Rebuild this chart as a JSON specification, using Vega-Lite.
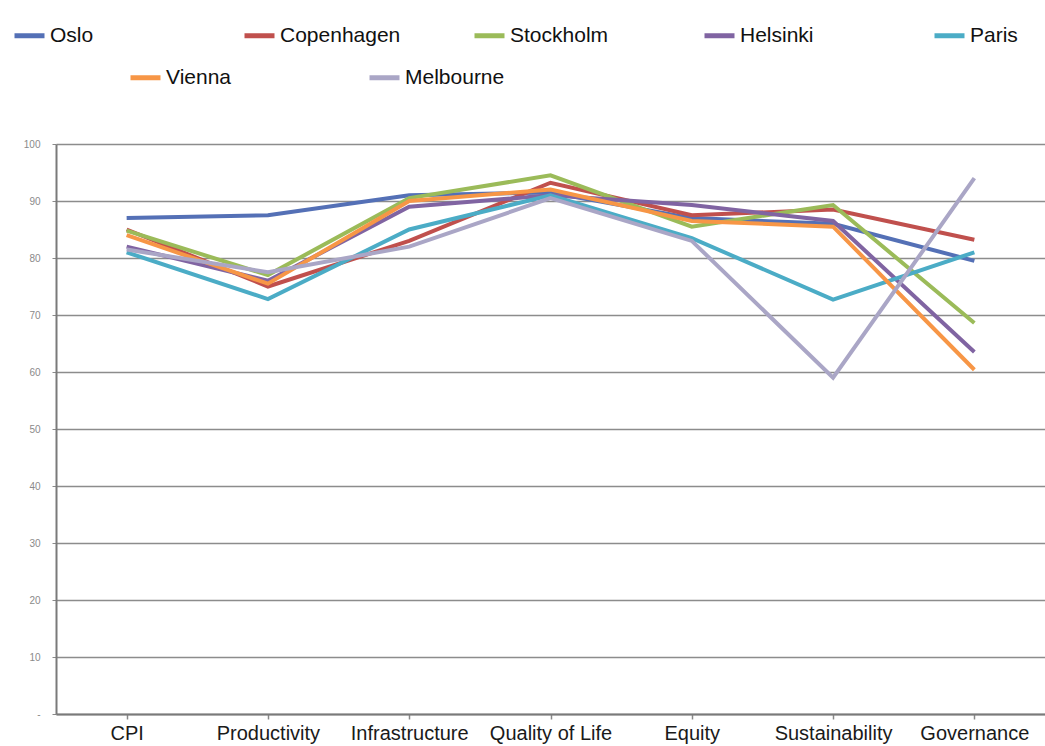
{
  "$schema": "https://vega.github.io/schema/vega-lite/v6.json",
  "width": 989,
  "height": 570,
  "autosize": "none",
  "padding": {"left": 56, "top": 144, "right": 0, "bottom": 32},
  "background": "white",
  "config": {
    "view": {"stroke": null},
    "font": "Liberation Sans, Arial, sans-serif"
  },
  "datasets": {
    "scores": [
      {"city": "Oslo", "category": "CPI", "value": 87},
      {"city": "Oslo", "category": "Productivity", "value": 87.5},
      {"city": "Oslo", "category": "Infrastructure", "value": 91},
      {"city": "Oslo", "category": "Quality of Life", "value": 91.5},
      {"city": "Oslo", "category": "Equity", "value": 87},
      {"city": "Oslo", "category": "Sustainability", "value": 86},
      {"city": "Oslo", "category": "Governance", "value": 79.5},
      {"city": "Copenhagen", "category": "CPI", "value": 85},
      {"city": "Copenhagen", "category": "Productivity", "value": 75},
      {"city": "Copenhagen", "category": "Infrastructure", "value": 83},
      {"city": "Copenhagen", "category": "Quality of Life", "value": 93.2},
      {"city": "Copenhagen", "category": "Equity", "value": 87.5},
      {"city": "Copenhagen", "category": "Sustainability", "value": 88.5},
      {"city": "Copenhagen", "category": "Governance", "value": 83.2},
      {"city": "Stockholm", "category": "CPI", "value": 84.8},
      {"city": "Stockholm", "category": "Productivity", "value": 77},
      {"city": "Stockholm", "category": "Infrastructure", "value": 90.5},
      {"city": "Stockholm", "category": "Quality of Life", "value": 94.5},
      {"city": "Stockholm", "category": "Equity", "value": 85.5},
      {"city": "Stockholm", "category": "Sustainability", "value": 89.3},
      {"city": "Stockholm", "category": "Governance", "value": 68.6},
      {"city": "Helsinki", "category": "CPI", "value": 82},
      {"city": "Helsinki", "category": "Productivity", "value": 76},
      {"city": "Helsinki", "category": "Infrastructure", "value": 89},
      {"city": "Helsinki", "category": "Quality of Life", "value": 91},
      {"city": "Helsinki", "category": "Equity", "value": 89.3},
      {"city": "Helsinki", "category": "Sustainability", "value": 86.5},
      {"city": "Helsinki", "category": "Governance", "value": 63.5},
      {"city": "Paris", "category": "CPI", "value": 81},
      {"city": "Paris", "category": "Productivity", "value": 72.8},
      {"city": "Paris", "category": "Infrastructure", "value": 85},
      {"city": "Paris", "category": "Quality of Life", "value": 91},
      {"city": "Paris", "category": "Equity", "value": 83.5},
      {"city": "Paris", "category": "Sustainability", "value": 72.7},
      {"city": "Paris", "category": "Governance", "value": 81}
    ],
    "scores2": [
      {"city": "Vienna", "category": "CPI", "value": 84},
      {"city": "Vienna", "category": "Productivity", "value": 75.5},
      {"city": "Vienna", "category": "Infrastructure", "value": 90},
      {"city": "Vienna", "category": "Quality of Life", "value": 92},
      {"city": "Vienna", "category": "Equity", "value": 86.5},
      {"city": "Vienna", "category": "Sustainability", "value": 85.5},
      {"city": "Vienna", "category": "Governance", "value": 60.4},
      {"city": "Melbourne", "category": "CPI", "value": 81.5},
      {"city": "Melbourne", "category": "Productivity", "value": 77.5},
      {"city": "Melbourne", "category": "Infrastructure", "value": 82},
      {"city": "Melbourne", "category": "Quality of Life", "value": 90.5},
      {"city": "Melbourne", "category": "Equity", "value": 83},
      {"city": "Melbourne", "category": "Sustainability", "value": 59},
      {"city": "Melbourne", "category": "Governance", "value": 94}
    ]
  },
  "encoding": {
    "x": {
      "field": "category",
      "type": "nominal",
      "scale": {"domain": ["CPI", "Productivity", "Infrastructure", "Quality of Life", "Equity", "Sustainability", "Governance"], "paddingInner": 0, "paddingOuter": 0},
      "axis": {
        "title": null,
        "labelAngle": 0,
        "labelFontSize": 20,
        "labelColor": "#1a1a1a",
        "labelPadding": 4,
        "bandPosition": 0,
        "tickSize": 5,
        "tickColor": "#888888",
        "tickWidth": 1.5,
        "domainColor": "#7a7a7a",
        "domainWidth": 2,
        "grid": false
      }
    },
    "y": {
      "field": "value",
      "type": "quantitative",
      "scale": {"domain": [0, 100], "nice": false},
      "axis": {
        "title": null,
        "values": [0, 10, 20, 30, 40, 50, 60, 70, 80, 90, 100],
        "labelExpr": "datum.value == 0 ? '-' : datum.label",
        "labelFontSize": 10,
        "labelColor": "#8a8a8a",
        "labelPadding": 12,
        "tickSize": 4,
        "tickColor": "#8a8a8a",
        "domainColor": "#7a7a7a",
        "domainWidth": 2,
        "grid": true,
        "gridColor": "#8c8c8c",
        "gridWidth": 1.5
      }
    }
  },
  "layer": [
    {
      "data": {"name": "scores"},
      "mark": {"type": "line", "strokeWidth": 4},
      "encoding": {
        "color": {
          "field": "city",
          "type": "nominal",
          "scale": {"domain": ["Oslo", "Copenhagen", "Stockholm", "Helsinki", "Paris"], "range": ["#5470b6", "#c0504d", "#9bbb59", "#8064a2", "#4bacc6"]},
          "legend": {
            "title": null,
            "orient": "none",
            "direction": "horizontal",
            "columns": 5,
            "gridAlign": "all",
            "columnPadding": 63,
            "legendX": -44,
            "legendY": -126,
            "symbolType": "stroke",
            "symbolSize": 900,
            "symbolStrokeWidth": 5,
            "labelFontSize": 21,
            "labelColor": "#111111",
            "labelOffset": 3,
            "labelLimit": 400
          }
        }
      }
    },
    {
      "data": {"name": "scores2"},
      "mark": {"type": "line", "strokeWidth": 4},
      "encoding": {
        "color": {
          "field": "city",
          "type": "nominal",
          "scale": {"domain": ["Vienna", "Melbourne"], "range": ["#f79646", "#aaa6c6"]},
          "legend": {
            "title": null,
            "orient": "none",
            "direction": "horizontal",
            "columns": 2,
            "gridAlign": "all",
            "columnPadding": 93,
            "legendX": 72,
            "legendY": -84,
            "symbolType": "stroke",
            "symbolSize": 900,
            "symbolStrokeWidth": 5,
            "labelFontSize": 21,
            "labelColor": "#111111",
            "labelOffset": 3,
            "labelLimit": 400
          }
        }
      }
    }
  ],
  "resolve": {"scale": {"color": "independent"}}
}
